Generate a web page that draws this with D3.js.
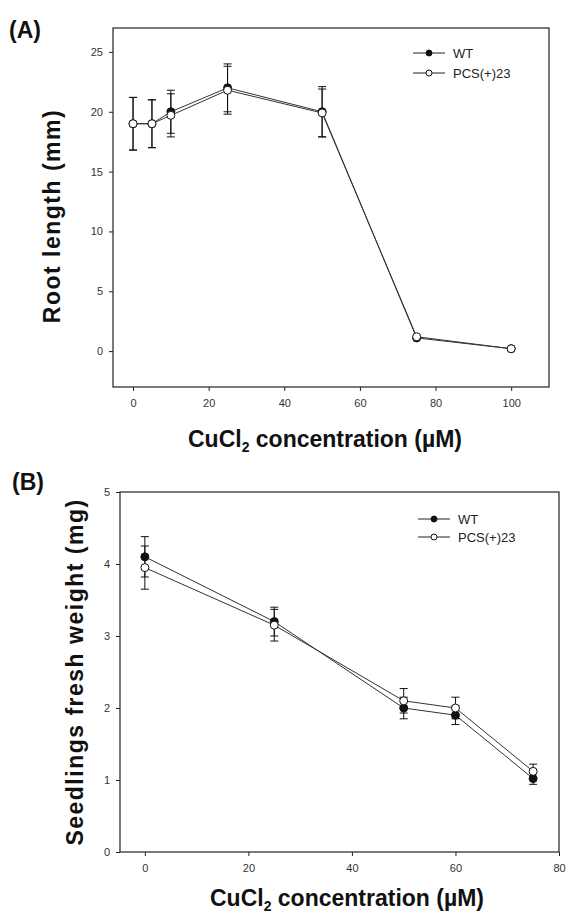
<!DOCTYPE html>
<html>
<head>
<meta charset="utf-8">
<script src="https://d3js.org/d3.v7.min.js"></script>
<style>
  body { margin: 0; background: #fff; }
  svg { display: block; font-family: 'Liberation Sans', Arial, sans-serif; }
  .tick text { fill: #333; font-size: 11px; }
  .tick line, .domain { stroke: #222; }
  .axis-title { font-weight: bold; font-size: 23px; fill: #111; }
  .y-title { letter-spacing: 1.5px; }
  .panel-tag { font-weight: bold; font-size: 23px; fill: #111; }
  .legend text { font-size: 13px; fill: #222; }
</style>
</head>
<body>
<svg id="chart" width="568" height="918"></svg>
<script>
// panel A: root length vs CuCl2
const concA = [0, 5, 10, 25, 50, 75, 100];
const wtRoot = [19.0, 19.0, 20.0, 22.0, 20.0, 1.1, 0.2];
const wtRootErr = [2.2, 2.0, 1.8, 2.0, 2.1, 0, 0];
const pcsRoot = [19.0, 19.0, 19.7, 21.8, 19.9, 1.2, 0.2];
const pcsRootErr = [2.2, 2.0, 1.8, 2.0, 2.0, 0, 0];
const xTicksA = [0, 20, 40, 60, 80, 100];
const yTicksA = [0, 5, 10, 15, 20, 25];

// panel B: fresh weight vs CuCl2
const concB = [0, 25, 50, 60, 75];
const wtFresh = [4.1, 3.2, 2.0, 1.9, 1.02];
const wtFreshErr = [0.28, 0.2, 0.15, 0.13, 0.08];
const pcsFresh = [3.95, 3.15, 2.1, 2.0, 1.12];
const pcsFreshErr = [0.3, 0.22, 0.17, 0.15, 0.1];
const xTicksB = [0, 20, 40, 60, 80];
const yTicksB = [0, 1, 2, 3, 4, 5];

const seriesNames = ["WT", "PCS(+)23"];

const svg = d3.select("#chart");

function drawPanel(opt) {
  const g = svg.append("g");
  const x = d3.scaleLinear().domain(opt.xDomain).range([opt.left, opt.right]);
  const y = d3.scaleLinear().domain(opt.yDomain).range([opt.bottom, opt.top]);

  // frame
  g.append("rect")
    .attr("x", opt.left).attr("y", opt.top)
    .attr("width", opt.right - opt.left).attr("height", opt.bottom - opt.top)
    .attr("fill", "none").attr("stroke", "#222").attr("stroke-width", 1.2);

  g.append("g")
    .attr("transform", `translate(0,${opt.bottom})`)
    .call(d3.axisBottom(x).tickValues(opt.xTicks).tickFormat(d3.format("d")).tickSize(4).tickPadding(8))
    .call(a => a.select(".domain").remove());

  g.append("g")
    .attr("transform", `translate(${opt.left},0)`)
    .call(d3.axisLeft(y).tickValues(opt.yTicks).tickFormat(d3.format("d")).tickSize(4).tickPadding(6))
    .call(a => a.select(".domain").remove());

  const line = d3.line().x(d => x(d.c)).y(d => y(d.v));

  const series = [
    { name: seriesNames[0], vals: opt.wt, err: opt.wtErr, fill: "#111" },
    { name: seriesNames[1], vals: opt.pcs, err: opt.pcsErr, fill: "#fff" }
  ];

  series.forEach(s => {
    const pts = opt.conc.map((c, i) => ({ c, v: s.vals[i], e: s.err[i] }));
    g.append("path").datum(pts)
      .attr("d", line).attr("fill", "none")
      .attr("stroke", "#333").attr("stroke-width", 1);
  });

  series.forEach(s => {
    const pts = opt.conc.map((c, i) => ({ c, v: s.vals[i], e: s.err[i] }));
    const eb = g.append("g").selectAll("g").data(pts.filter(d => d.e > 0)).join("g")
      .attr("stroke", "#111").attr("stroke-width", 1);
    eb.append("line")
      .attr("x1", d => x(d.c)).attr("x2", d => x(d.c))
      .attr("y1", d => y(d.v - d.e)).attr("y2", d => y(d.v + d.e));
    eb.append("line")
      .attr("x1", d => x(d.c) - 4).attr("x2", d => x(d.c) + 4)
      .attr("y1", d => y(d.v + d.e)).attr("y2", d => y(d.v + d.e));
    eb.append("line")
      .attr("x1", d => x(d.c) - 4).attr("x2", d => x(d.c) + 4)
      .attr("y1", d => y(d.v - d.e)).attr("y2", d => y(d.v - d.e));
  });

  series.forEach(s => {
    const pts = opt.conc.map((c, i) => ({ c, v: s.vals[i] }));
    g.append("g").selectAll("circle").data(pts).join("circle")
      .attr("cx", d => x(d.c)).attr("cy", d => y(d.v))
      .attr("r", 4).attr("fill", s.fill)
      .attr("stroke", "#111").attr("stroke-width", 1);
  });

  // legend
  const lg = g.append("g").attr("class", "legend");
  series.forEach((s, i) => {
    const ly = opt.legendY + i * opt.legendGap;
    lg.append("line")
      .attr("x1", opt.legendX).attr("x2", opt.legendX + 32)
      .attr("y1", ly).attr("y2", ly)
      .attr("stroke", "#222").attr("stroke-width", 1);
    lg.append("circle")
      .attr("cx", opt.legendX + 16).attr("cy", ly).attr("r", 3)
      .attr("fill", s.fill).attr("stroke", "#111");
    lg.append("text")
      .attr("x", opt.legendX + 40).attr("y", ly + 5)
      .text(s.name);
  });

  // x title with subscript
  const xt = g.append("text").attr("class", "axis-title")
    .attr("x", opt.xTitleX).attr("y", opt.xTitleY).attr("text-anchor", "middle");
  xt.append("tspan").text("CuCl");
  xt.append("tspan").attr("font-size", "14px").attr("dy", 5).text("2");
  xt.append("tspan").attr("dy", -5).text(" concentration (\u00b5M)");

  g.append("text").attr("class", "axis-title y-title")
    .attr("transform", `translate(${opt.yTitleX},${opt.yTitleY}) rotate(-90)`)
    .attr("text-anchor", "middle")
    .text(opt.yTitle);

  g.append("text").attr("class", "panel-tag")
    .attr("x", opt.tagX).attr("y", opt.tagY).text(opt.tag);
}

drawPanel({
  left: 113, right: 549, top: 28, bottom: 387,
  xDomain: [-5.3, 110], yDomain: [-3, 27],
  xTicks: xTicksA, yTicks: yTicksA,
  conc: concA, wt: wtRoot, wtErr: wtRootErr, pcs: pcsRoot, pcsErr: pcsRootErr,
  legendX: 413, legendY: 53, legendGap: 20,
  xTitleX: 325, xTitleY: 447,
  yTitleX: 60, yTitleY: 216, yTitle: "Root length (mm)",
  tag: "(A)", tagX: 9, tagY: 38
});

drawPanel({
  left: 120, right: 559, top: 492, bottom: 852,
  xDomain: [-4.8, 80], yDomain: [0, 5],
  xTicks: xTicksB, yTicks: yTicksB,
  conc: concB, wt: wtFresh, wtErr: wtFreshErr, pcs: pcsFresh, pcsErr: pcsFreshErr,
  legendX: 418, legendY: 519, legendGap: 18,
  xTitleX: 347, xTitleY: 906,
  yTitleX: 83, yTitleY: 672, yTitle: "Seedlings fresh weight (mg)",
  tag: "(B)", tagX: 12, tagY: 490
});
</script>
</body>
</html>
